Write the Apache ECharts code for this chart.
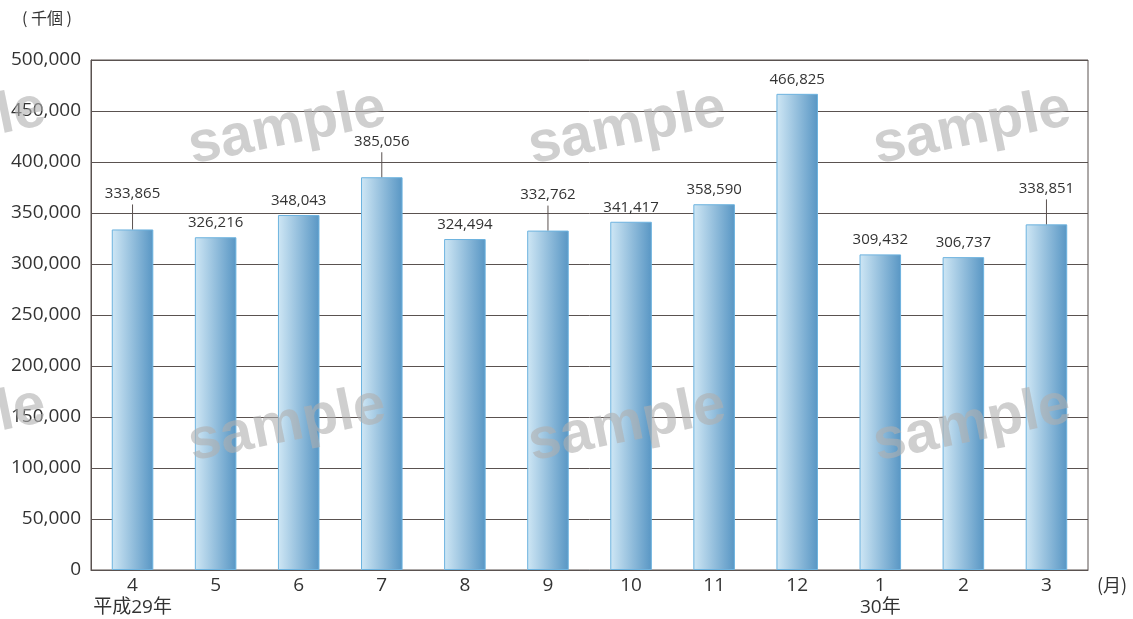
<!DOCTYPE html>
<html><head><meta charset="utf-8">
<script src="https://cdn.jsdelivr.net/npm/echarts@6/dist/echarts.min.js"></script>
<style>html,body{margin:0;padding:0;background:#fff}#c{width:1133px;height:619px}</style>
</head><body><div id="c"></div>
<script>
const months = ['4', '5', '6', '7', '8', '9', '10', '11', '12', '1', '2', '3'];
const yearNotes = ['平成29年', '', '', '', '', '', '', '', '', '30年', '', ''];
const values = [333865, 326216, 348043, 385056, 324494, 332762, 341417, 358590, 466825, 309432, 306737, 338851];
const leaderMonths = ['4', '7', '9', '3'];
const yTicks = [0, 50000, 100000, 150000, 200000, 250000, 300000, 350000, 400000, 450000, 500000];

const FONT = '"Open Sans", "Noto Sans CJK JP", sans-serif';
const JFONT = '"Noto Sans CJK JP", sans-serif';
const TXT = '#333';
const LINE = '#5a5250';
const fmt = v => v.toString().replace(/\B(?=(\d{3})+(?!\d))/g, ',');
const LEAD = 25;

const chart = echarts.init(document.getElementById('c'));
const barData = values.map((v, i) => {
  const lifted = leaderMonths.includes(months[i]);
  return { value: v, label: { distance: lifted ? LEAD + 3 : 7 } };
});
const leadData = values.map((v, i) => leaderMonths.includes(months[i]) ? [i, v] : null).filter(d => d);

const marks = [];
[-53, 287, 627, 972].forEach(x => {
  [128, 425].forEach(y => {
    marks.push({
      type: 'text', x: x, y: y, rotation: 0.2, z: 100,
      style: {
        text: 'sample', font: 'bold 58px "Liberation Sans", sans-serif',
        fill: 'rgba(175,175,175,0.6)', textAlign: 'center', textVerticalAlign: 'middle',
        shadowBlur: 4, shadowColor: 'rgba(160,160,160,0.6)'
      }
    });
  });
});

chart.setOption({
  animation: false,
  grid: { left: 91, right: 45, top: 60, bottom: 47, show: true, borderColor: LINE, borderWidth: 1 },
  xAxis: {
    type: 'category', data: months.map((m, i) => yearNotes[i] ? m + '\n' + yearNotes[i] : m),
    axisLine: { lineStyle: { color: LINE, width: 1 } },
    axisTick: { inside: true, length: 10, lineStyle: { color: LINE } },
    axisLabel: { color: TXT, fontSize: 19, fontFamily: FONT, lineHeight: 22, margin: 5, interval: 0 }
  },
  yAxis: {
    type: 'value', min: yTicks[0], max: yTicks[yTicks.length - 1], interval: yTicks[1] - yTicks[0],
    axisLine: { show: true, lineStyle: { color: LINE } },
    axisTick: { show: false },
    splitLine: { lineStyle: { color: LINE, width: 1 } },
    axisLabel: { color: TXT, fontSize: 19, fontFamily: FONT, margin: 10, formatter: fmt }
  },
  series: [{
    type: 'bar', data: barData, barWidth: '50%',
    itemStyle: {
      color: new echarts.graphic.LinearGradient(0, 0, 1, 0, [
        { offset: 0, color: '#cfe7f5' }, { offset: 1, color: '#5896c4' }
      ]),
      borderColor: '#6db3df', borderWidth: 1
    },
    label: { show: true, position: 'top', color: TXT, fontSize: 15, fontFamily: FONT, formatter: p => fmt(p.value) }
  }, {
    type: 'custom', data: leadData, z: 5,
    renderItem: (params, api) => {
      const p = api.coord([api.value(0), api.value(1)]);
      return { type: 'line', shape: { x1: p[0], y1: p[1], x2: p[0], y2: p[1] - LEAD }, style: { stroke: LINE, lineWidth: 1 } };
    }
  }],
  graphic: marks.concat([
    { type: 'text', left: 22, top: 10, style: { text: '( 千個 )', font: '16px ' + JFONT, fill: TXT } },
    { type: 'text', left: 1097, top: 576, style: { text: '(月)', font: '18px ' + JFONT, fill: TXT } }
  ])
});
</script></body></html>
